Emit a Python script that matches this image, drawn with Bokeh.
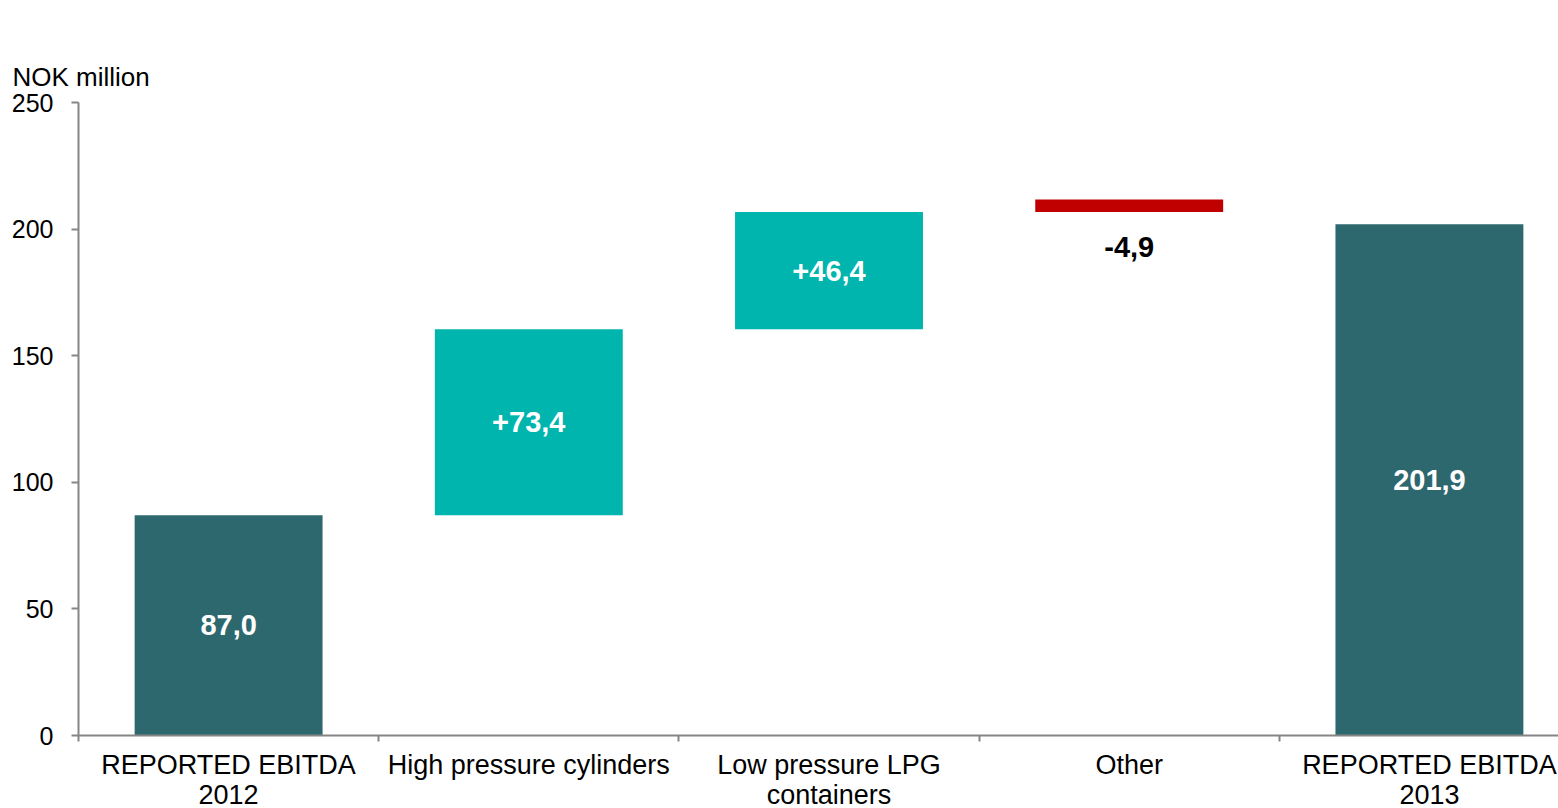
from bokeh.plotting import figure
from bokeh.models import FixedTicker, Range1d, ColumnDataSource, Title
from bokeh.core.properties import value
from bokeh.embed import file_html
from bokeh.resources import INLINE

# EBITDA bridge, NOK million
unit_caption = "NOK million"
categories = [
    "REPORTED EBITDA\n2012",
    "High pressure cylinders",
    "Low pressure LPG\ncontainers",
    "Other",
    "REPORTED EBITDA\n2013",
]
opening_ebitda = 87.0
changes = [73.4, 46.4, -4.9]
closing_ebitda = 201.9
y_ticks = [0, 50, 100, 150, 200, 250]

DARK = "#2E686F"
TEAL = "#00B5AD"
RED = "#C00000"
AXIS = "#868686"
FONT = "Liberation Sans"


def fmt(v, signed=False):
    s = f"{abs(v):.1f}".replace(".", ",")
    if v < 0:
        return "-" + s
    return ("+" + s) if signed else s


# build the floating bars
xs, bottoms, tops, colors, labels = [], [], [], [], []
lab_y, lab_off, lab_color = [], [], []

xs.append(0.5); bottoms.append(0.0); tops.append(opening_ebitda); colors.append(DARK)
labels.append(fmt(opening_ebitda)); lab_y.append(opening_ebitda / 2); lab_off.append(0); lab_color.append("white")

running = opening_ebitda
for i, c in enumerate(changes):
    b, t = running, running + abs(c)
    xs.append(i + 1.5); bottoms.append(b); tops.append(t)
    if c >= 0:
        colors.append(TEAL)
        labels.append(fmt(c, True)); lab_y.append((b + t) / 2); lab_off.append(0); lab_color.append("white")
    else:
        colors.append(RED)
        labels.append(fmt(c, True)); lab_y.append(b); lab_off.append(35); lab_color.append("black")
    running += c

xs.append(4.5); bottoms.append(0.0); tops.append(closing_ebitda); colors.append(DARK)
labels.append(fmt(closing_ebitda)); lab_y.append(closing_ebitda / 2); lab_off.append(0); lab_color.append("white")

bars = ColumnDataSource(dict(x=xs, bottom=bottoms, top=tops, color=colors))
texts = ColumnDataSource(dict(x=xs, y=lab_y, text=labels, off=lab_off, color=lab_color))

p = figure(
    frame_width=1480, frame_height=633,
    x_range=Range1d(0, 4.93), y_range=Range1d(0, 250),
    output_backend="svg", toolbar_location=None,
    min_border_left=78, min_border_right=0, min_border_top=102, min_border_bottom=60,
    background_fill_color="white", border_fill_color="white",
)
p.outline_line_color = None
p.xgrid.visible = False
p.ygrid.visible = False

# unit caption pinned to the top-left corner
p.title = Title(text=unit_caption, align="left", vertical_align="top", offset=-66, standoff=18,
                text_font=FONT, text_font_size="26px", text_font_style="normal",
                text_color="black")

p.vbar(x="x", bottom="bottom", top="top", width=0.626, color="color", line_color=None, source=bars)
p.text(x="x", y="y", text="text", y_offset="off", text_color="color", source=texts,
       text_align="center", text_baseline="middle",
       text_font=value(FONT), text_font_style="bold", text_font_size="29px")

# y axis
ya = p.yaxis[0]
ya.ticker = FixedTicker(ticks=y_ticks)
ya.axis_line_color = AXIS
ya.axis_line_width = 2
ya.major_tick_line_color = AXIS
ya.major_tick_line_width = 2
ya.major_tick_out = 7
ya.major_tick_in = 0
ya.minor_tick_line_color = None
ya.major_label_standoff = 18
ya.major_label_text_font = FONT
ya.major_label_text_font_size = "25px"
ya.major_label_text_color = "black"

# x axis: labels centred in each slot, ticks on slot boundaries
xa = p.xaxis[0]
centers = [i + 0.5 for i in range(len(categories))]
xa.ticker = FixedTicker(ticks=centers, minor_ticks=[0, 1, 2, 3, 4, 5])
xa.major_label_overrides = {c: name for c, name in zip(centers, categories)}
xa.axis_line_color = AXIS
xa.axis_line_width = 2
xa.major_tick_line_color = None
xa.major_tick_out = 0
xa.major_tick_in = 0
xa.minor_tick_line_color = AXIS
xa.minor_tick_line_width = 2
xa.minor_tick_out = 6
xa.minor_tick_in = 0
xa.major_label_standoff = 8
xa.major_label_text_font = FONT
xa.major_label_text_font_size = "27px"
xa.major_label_text_line_height = 1.0
xa.major_label_text_color = "black"

open("out.html", "w").write(file_html(p, INLINE))
